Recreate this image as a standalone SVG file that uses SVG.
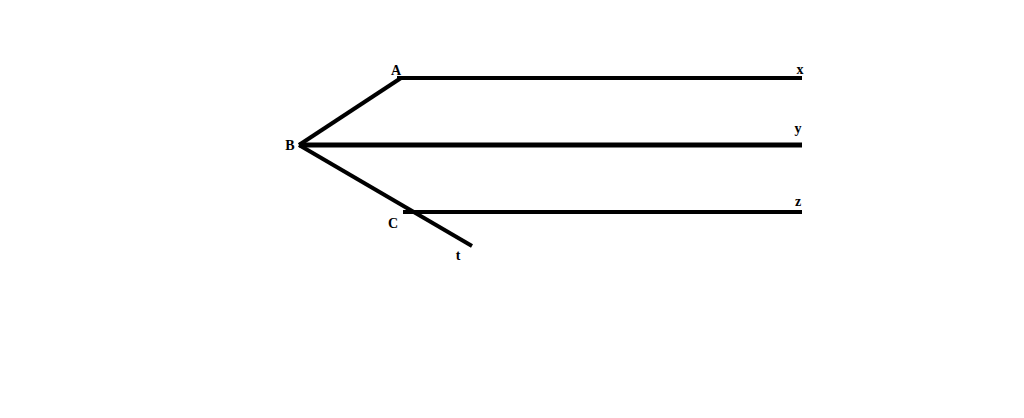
<svg xmlns="http://www.w3.org/2000/svg" width="1024" height="418" viewBox="0 0 1024 418">
<style>
.ln{stroke:#000;stroke-width:4;fill:none}
.lb{font-family:"Liberation Serif",serif;font-weight:bold;font-size:14px;fill:#000;text-anchor:middle}
</style>
<rect width="1024" height="418" fill="#fff"/>
<g id="connectors">
<line class="ln" x1="299" y1="145" x2="401" y2="78"/>
<line class="ln" x1="397" y1="78" x2="802" y2="78"/>
<line class="ln" x1="299" y1="145" x2="802" y2="145" style="stroke-width:5"/>
<line class="ln" x1="299" y1="145" x2="472" y2="246"/>
<line class="ln" x1="403" y1="212" x2="802" y2="212"/>
</g>
<g id="A"><text class="lb" x="396" y="75">A</text></g>
<g id="B"><text class="lb" x="290" y="150">B</text></g>
<g id="C"><text class="lb" x="393" y="228">C</text></g>
<g id="t"><text class="lb" x="458" y="260">t</text></g>
<g id="x"><text class="lb" x="800" y="74">x</text></g>
<g id="y"><text class="lb" x="798" y="133">y</text></g>
<g id="z"><text class="lb" x="798" y="206">z</text></g>
</svg>
